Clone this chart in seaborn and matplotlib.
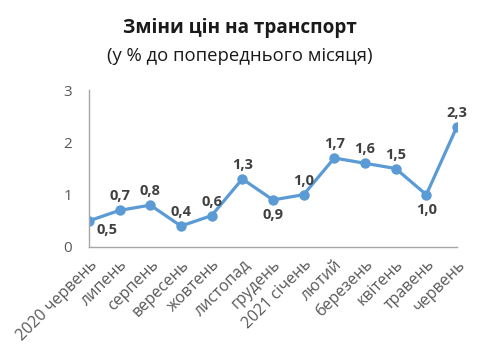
import matplotlib
matplotlib.use("Agg")
import matplotlib.pyplot as plt
import pandas as pd
import seaborn as sns

months = [
    "2020 червень", "липень", "серпень", "вересень", "жовтень", "листопад",
    "грудень", "2021 січень", "лютий", "березень", "квітень", "травень", "червень",
]
values = [0.5, 0.7, 0.8, 0.4, 0.6, 1.3, 0.9, 1.0, 1.7, 1.6, 1.5, 1.0, 2.3]
labels = ["0,5", "0,7", "0,8", "0,4", "0,6", "1,3", "0,9", "1,0", "1,7", "1,6", "1,5", "1,0", "2,3"]
# where each data label sits relative to its point
label_pos = ["right", "up", "up", "up", "up", "up", "down", "up", "up", "up", "up", "down", "up"]

df = pd.DataFrame({"pos": range(len(months)), "value": values})

sns.set_style("white")
plt.rcParams["font.family"] = ["Open Sans", "DejaVu Sans"]

fig = plt.figure(figsize=(4.8, 3.63), dpi=100)
ax = fig.add_axes([0.1854, 0.3196, 0.952 - 0.1854, 0.752 - 0.3196])

color = "#5B9BD5"
sns.lineplot(
    data=df, x="pos", y="value", ax=ax, color=color, linewidth=2.3,
    marker="o", markersize=7.5, markeredgewidth=0,
)

for i, (v, lab, p) in enumerate(zip(values, labels, label_pos)):
    if p == "up":
        off, va = (0, 5), "bottom"
    elif p == "down":
        off, va = (0, -6), "top"
    else:
        off, va = (13, -6.5), "center"
    ax.annotate(lab, (i, v), xytext=off, textcoords="offset points",
                ha="center", va=va, fontsize=10.5, fontweight="bold", color="#404040")

ax.set_xlim(0, len(months) - 1)
ax.set_ylim(0, 3)
ax.set_yticks([0, 1, 2, 3])
ax.set_xticks(range(len(months)))
ax.set_xticklabels(months, rotation=45, ha="right", rotation_mode="anchor")
ax.set_xlabel("")
ax.set_ylabel("")

for s in ["top", "right"]:
    ax.spines[s].set_visible(False)
for s in ["left", "bottom"]:
    ax.spines[s].set_color("#a6a6a6")
    ax.spines[s].set_linewidth(1)

ax.tick_params(axis="both", direction="out", length=4, width=1, color="#a6a6a6",
               labelcolor="#595959")
ax.tick_params(axis="y", labelsize=11, pad=8)
ax.tick_params(axis="x", labelsize=11.5, pad=3)

fig.text(0.5, 1 - 28 / 363, "Зміни цін на транспорт", ha="center", va="center",
         fontsize=13.7, fontweight="bold", color="#1a1a1a")
fig.text(0.5, 1 - 56 / 363, "(у % до попереднього місяця)", ha="center", va="center",
         fontsize=13.3, color="#1a1a1a")

fig.savefig("out.png", dpi=100)
